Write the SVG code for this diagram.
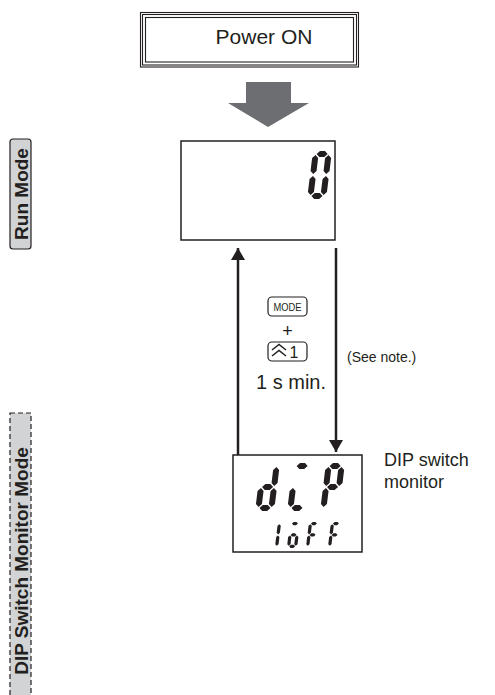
<svg xmlns="http://www.w3.org/2000/svg" xmlns:xlink="http://www.w3.org/1999/xlink" width="495" height="695" viewBox="0 0 495 695">
<style>
.txt{font-family:"Liberation Sans",Arial,sans-serif;fill:#231f20}
.lbl{font-family:"Liberation Sans",Arial,sans-serif;font-weight:bold;fill:#231f20;font-size:19px}
.box{fill:#fff;stroke:#231f20;stroke-width:1.5}
.pw{fill:none;stroke:#231f20;stroke-width:1.1}
.key{fill:#fff;stroke:#231f20;stroke-width:1.2}
.conn{stroke:#231f20;stroke-width:2.5;fill:none}
.seg{fill:#231f20}
</style>
<defs>
<marker id="ah" markerUnits="userSpaceOnUse" markerWidth="14" markerHeight="14" viewBox="0 0 14 14" refX="12" refY="7" orient="auto">
<path d="M0,0 L12,7 L0,14 Z" fill="#231f20"/>
</marker>
<polygon id="sa" class="seg" points="4,3 7,0 12,0 15,3 12,6 7,6"/>
<polygon id="sg" class="seg" points="4,24 7,21 12,21 15,24 12,27 7,27"/>
<polygon id="sd" class="seg" points="4,45 7,42 12,42 15,45 12,48 7,48"/>
<polygon id="sf" class="seg" points="3,4 6,7 6,20 3,23 0,20 0,7"/>
<polygon id="sb" class="seg" points="16,4 19,7 19,20 16,23 13,20 13,7"/>
<polygon id="se" class="seg" points="3,25 6,28 6,41 3,44 0,41 0,28"/>
<polygon id="sc" class="seg" points="16,25 19,28 19,41 16,44 13,41 13,28"/>
</defs>

<g id="label-run-mode">
<rect x="10" y="139" width="21" height="110" rx="3" fill="#d1d3d4" stroke="#231f20" stroke-width="1.2"/>
<text class="lbl" transform="translate(27.5,194) rotate(-90)" text-anchor="middle">Run Mode</text>
</g>

<g id="label-dip-mode">
<rect x="10" y="413" width="21" height="300" fill="#d1d3d4" stroke="#231f20" stroke-width="1.2" stroke-dasharray="5,3"/>
<text class="lbl" transform="translate(27.5,561) rotate(-90)" text-anchor="middle">DIP Switch Monitor Mode</text>
</g>

<g id="power-on">
<rect class="pw" x="140.5" y="12.5" width="218" height="54.5"/>
<rect class="pw" x="142.5" y="14.5" width="214" height="50.5"/>
<rect class="pw" x="145.5" y="17.5" width="208" height="44.5"/>
<text class="txt" x="264" y="44" font-size="21" text-anchor="middle">Power ON</text>
</g>

<g id="big-arrow">
<polygon points="246,82 291,82 291,103 309,103 268,127 228,103 246,103" fill="#6d6e71"/>
</g>

<g id="run-display">
<rect class="box" x="181" y="141" width="154" height="99"/>
<g transform="translate(313,151) skewX(-7)">
<use xlink:href="#sa"/><use xlink:href="#sb"/><use xlink:href="#sc"/><use xlink:href="#sd"/><use xlink:href="#se"/><use xlink:href="#sf"/>
</g>
</g>

<g id="dip-display">
<rect class="box" x="233" y="455" width="129" height="97"/>
<g transform="translate(261,463) skewX(-7)">
<use xlink:href="#sb"/><use xlink:href="#sc"/><use xlink:href="#sd"/><use xlink:href="#se"/><use xlink:href="#sg"/>
</g>
<g transform="translate(293,463) skewX(-7)">
<use xlink:href="#sa"/><use xlink:href="#sd"/><use xlink:href="#se"/>
</g>
<g transform="translate(326,463) skewX(-7)">
<use xlink:href="#sa"/><use xlink:href="#sb"/><use xlink:href="#sf"/><use xlink:href="#sg"/><use xlink:href="#se"/>
</g>
<g transform="translate(271,522) skewX(-7) scale(0.54)">
<use xlink:href="#sb"/><use xlink:href="#sc"/>
</g>
<g transform="translate(290,522) skewX(-7) scale(0.54)">
<use xlink:href="#sa"/><use xlink:href="#sc"/><use xlink:href="#sd"/><use xlink:href="#se"/><use xlink:href="#sg"/>
</g>
<g transform="translate(309,522) skewX(-7) scale(0.54)">
<use xlink:href="#sa"/><use xlink:href="#sf"/><use xlink:href="#sg"/><use xlink:href="#se"/>
</g>
<g transform="translate(331,522) skewX(-7) scale(0.54)">
<use xlink:href="#sa"/><use xlink:href="#sf"/><use xlink:href="#sg"/><use xlink:href="#se"/>
</g>
</g>

<g id="dip-caption">
<text class="txt" x="384" y="466" font-size="18">DIP switch</text>
<text class="txt" x="384" y="488" font-size="18">monitor</text>
</g>

<g id="connectors">
<line class="conn" x1="238" y1="455" x2="238" y2="248" marker-end="url(#ah)"/>
<line class="conn" x1="336" y1="248" x2="336" y2="452" marker-end="url(#ah)"/>
</g>

<g id="key-condition">
<rect class="key" x="268" y="297" width="39" height="19" rx="4"/>
<text class="txt" x="287.5" y="311" font-size="11" text-anchor="middle" textLength="28" lengthAdjust="spacingAndGlyphs">MODE</text>
<text class="txt" x="287.5" y="337" font-size="18" text-anchor="middle">+</text>
<rect class="key" x="268" y="342" width="39" height="19" rx="4"/>
<polyline points="272,350 279,344.5 286,350" fill="none" stroke="#231f20" stroke-width="1.5"/>
<polyline points="272,356 279,350.5 286,356" fill="none" stroke="#231f20" stroke-width="1.5"/>
<text class="txt" x="294" y="358" font-size="16" text-anchor="middle">1</text>
<text class="txt" x="291" y="389" font-size="20" text-anchor="middle">1 s min.</text>
</g>

<g id="note">
<text class="txt" x="347" y="362" font-size="14">(See note.)</text>
</g>
</svg>
